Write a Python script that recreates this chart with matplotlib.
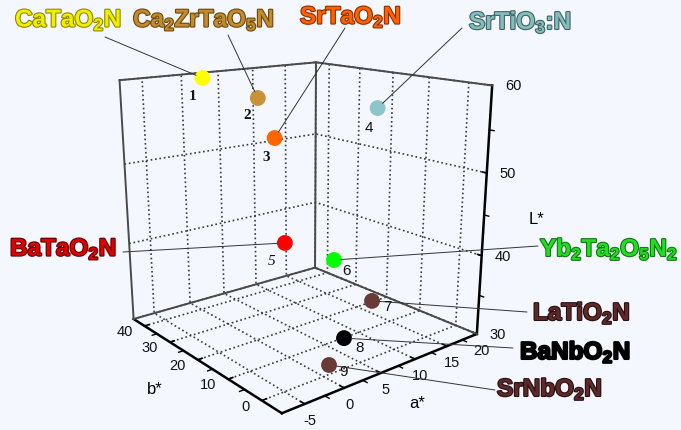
import numpy as np
import matplotlib
matplotlib.use('Agg')
import matplotlib.pyplot as plt
import matplotlib.patheffects as pe
from mpl_toolkits.mplot3d import proj3d
import warnings
warnings.filterwarnings('ignore')

plt.rcParams['font.family'] = 'Liberation Sans'
plt.rcParams['mathtext.fontset'] = 'custom'
plt.rcParams['mathtext.rm'] = 'Liberation Sans:bold'
plt.rcParams['mathtext.default'] = 'rm'
plt.rcParams['grid.linestyle'] = ':'
plt.rcParams['grid.color'] = '#3a3a3a'
plt.rcParams['grid.linewidth'] = 1.2

# CIE L*a*b* coordinates of the oxynitride pigments
names = [r'CaTaO$_2$N', r'Ca$_2$ZrTaO$_5$N', r'SrTaO$_2$N', r'SrTiO$_3$:N',
         r'BaTaO$_2$N', r'Yb$_2$Ta$_2$O$_5$N$_2$', r'LaTiO$_2$N',
         r'BaNbO$_2$N', r'SrNbO$_2$N']
numbers = ['1', '2', '3', '4', '5', '6', '7', '8', '9']
a_star = [1.0, 6.8, 9.9, 12.8, 9.6, 10.1, 11.3, 5.0, 1.5]
b_star = [39.5, 35.1, 36.8, 11.2, 32.8, 17.8, 8.7, 4.5, 1.6]
L_star = [59.8, 57.1, 51.5, 57.0, 38.0, 38.0, 34.0, 32.0, 30.5]

a_ticks = [-5, 0, 5, 10, 15, 20]
b_ticks = [0, 10, 20, 30, 40]
L_ticks = [30, 40, 50, 60]
a_minor = [-2.5, 2.5, 7.5, 12.5, 17.5]
b_minor = [5, 15, 25, 35]
L_minor = [35, 45, 55]
a_lim = (-7.73, 20)
b_lim = (-5.49, 44.58)
L_lim = (30, 60)

dot_colors = ['#ffff00', '#c8913a', '#ff6600', '#8cc6c8', '#ff0000',
              '#00ff00', '#6a3a36', '#000000', '#6a3a36']
text_colors = ['#f2ee00', '#c58a2c', '#ff6000', '#86bcbc', '#e00000',
               '#22dd22', '#5c2a2a', '#000000', '#5c2a2a']
edge_colors = ['#8f8a00', '#6b4a10', '#8a3000', '#3f6464', '#5a0000',
               '#117711', '#2a1010', '#000000', '#2a1010']

# label placement in pixels from the top-left corner
label_pos = [(15, 20), (133, 20), (300, 17), (469, 22), (10, 249),
             (540, 249), (533, 313), (520, 352), (497, 389)]
leader_start = [(105, 37), (228, 35), (345, 28), (462, 28), (123, 252),
                (538, 246), (527, 312), (513, 348), (495, 390)]
num_offset = [(-10, -19), (-11, -18), (-8, -19), (-9, -20), (-13, -19),
              (12, -11), (15, -6), (16, -10), (14, -7)]
num_fonts = [('Liberation Serif', 'bold', 'normal')] * 3 + \
            [('Liberation Sans', 'normal', 'normal'),
             ('Liberation Serif', 'normal', 'italic')] + \
            [('Liberation Sans', 'normal', 'normal')] * 4

bg = '#f4f7fd'
W, H = 681, 430
fig = plt.figure(figsize=(W / 100, H / 100), dpi=100, facecolor=bg)
S = 426.5
cx, cy = 295.9, 214.7
ax = fig.add_axes([(cx - S / 2) / W, (cy - S / 2) / H, S / W, S / H],
                  projection='3d', facecolor=bg)
ax.set_proj_type('persp', focal_length=0.369)
ax.view_init(elev=16.01, azim=-129.29)
ax.set_box_aspect((1, 1.014, 1.003))
ax.set_xlim(*a_lim, view_margin=0)
ax.set_ylim(*b_lim, view_margin=0)
ax.set_zlim(*L_lim, view_margin=0)
ax.set_xticks(a_ticks)
ax.set_yticks(b_ticks)
ax.set_zticks(L_ticks)
ax.set_xticklabels([])
ax.set_yticklabels([])
ax.set_zticklabels([])
ax.zaxis.set_ticks_position('lower')

for axis in (ax.xaxis, ax.yaxis, ax.zaxis):
    axis.pane.set_visible(False)
    axis.line.set_color('k')
    axis.line.set_linewidth(1.8)
    axis._axinfo['tick']['inward_factor'] = 0.0
    axis._axinfo['tick']['outward_factor'] = 0.25
    axis._axinfo['tick']['linewidth'] = {True: 1.2, False: 1.0}
    axis._axinfo['tick']['color'] = 'k'

# back edges of the box
a0, a1 = a_lim
b0, b1 = b_lim
z0, z1 = L_lim
for xs, ys, zs in [([a0, a0], [b1, b1], [z0, z1]), ([a1, a1], [b1, b1], [z0, z1]),
                   ([a0, a1], [b1, b1], [z1, z1]), ([a1, a1], [b0, b1], [z1, z1]),
                   ([a0, a1], [b1, b1], [z0, z0]), ([a1, a1], [b0, b1], [z0, z0])]:
    ax.plot(xs, ys, zs, color='#4a4a4a', lw=1.4)

# minor ticks on the three axis lines
for t in a_minor:
    ax.plot([t, t], [b0, b0 - 1.1], [z0, z0], color='k', lw=1.0)
for t in b_minor:
    ax.plot([a0, a0 - 0.6], [t, t], [z0, z0], color='k', lw=1.0)
for t in L_minor:
    ax.plot([a1, a1], [b0, b0 - 1.1], [t, t], color='k', lw=1.0)

ax.scatter(a_star, b_star, L_star, s=130, c=dot_colors, depthshade=False,
           edgecolors='none', alpha=1)

M = ax.get_proj()


def project(xs, ys, zs):
    u, v, _ = proj3d.proj_transform(np.asarray(xs, float), np.asarray(ys, float),
                                    np.asarray(zs, float), M)
    return u, v


# tick labels next to the axis lines
tick_kw = dict(xycoords='data', textcoords='offset pixels', fontsize=10.5,
               color='#111111', annotation_clip=False)
u, v = project(a_ticks, [b0] * len(a_ticks), [z0] * len(a_ticks))
for t, x, y in zip(a_ticks, u, v):
    ax.annotate(str(t), xy=(x, y), xytext=(5, -17), ha='center', va='center', **tick_kw)
u, v = project([a0] * len(b_ticks), b_ticks, [z0] * len(b_ticks))
for t, x, y in zip(b_ticks, u, v):
    ax.annotate(str(t), xy=(x, y), xytext=(-12, -6), ha='right', va='center', **tick_kw)
u, v = project([a1] * len(L_ticks), [b0] * len(L_ticks), L_ticks)
for t, x, y in zip(L_ticks, u, v):
    ax.annotate(str(t), xy=(x, y), xytext=(13, -1), ha='left', va='center', **tick_kw)

px, py = project(a_star, b_star, L_star)
for i in range(len(names)):
    lx, ly = label_pos[i]
    fig.text(lx / W, 1 - ly / H, names[i], fontsize=17.5, fontweight='bold',
             color=text_colors[i], ha='left', va='center',
             path_effects=[pe.withStroke(linewidth=1.6, foreground=edge_colors[i])])
    sx, sy = leader_start[i]
    ax.annotate('', xy=(px[i], py[i]), xycoords='data',
                xytext=(sx / W, 1 - sy / H), textcoords='figure fraction',
                annotation_clip=False,
                arrowprops=dict(arrowstyle='-', color='#333333', lw=0.7,
                                shrinkA=0, shrinkB=5))
    fam, wt, st = num_fonts[i]
    ax.annotate(numbers[i], xy=(px[i], py[i]), xycoords='data',
                xytext=num_offset[i], textcoords='offset pixels',
                ha='center', va='center', fontsize=11, family=fam,
                fontweight=wt, fontstyle=st, color='#111111',
                annotation_clip=False)

fig.text(417 / W, 1 - 403 / H, 'a*', fontsize=12, ha='center', va='center')
fig.text(155 / W, 1 - 390 / H, 'b*', fontsize=12, ha='center', va='center')
fig.text(536 / W, 1 - 219 / H, 'L*', fontsize=12, ha='center', va='center')

fig.savefig('out.png', dpi=100, facecolor=bg)
